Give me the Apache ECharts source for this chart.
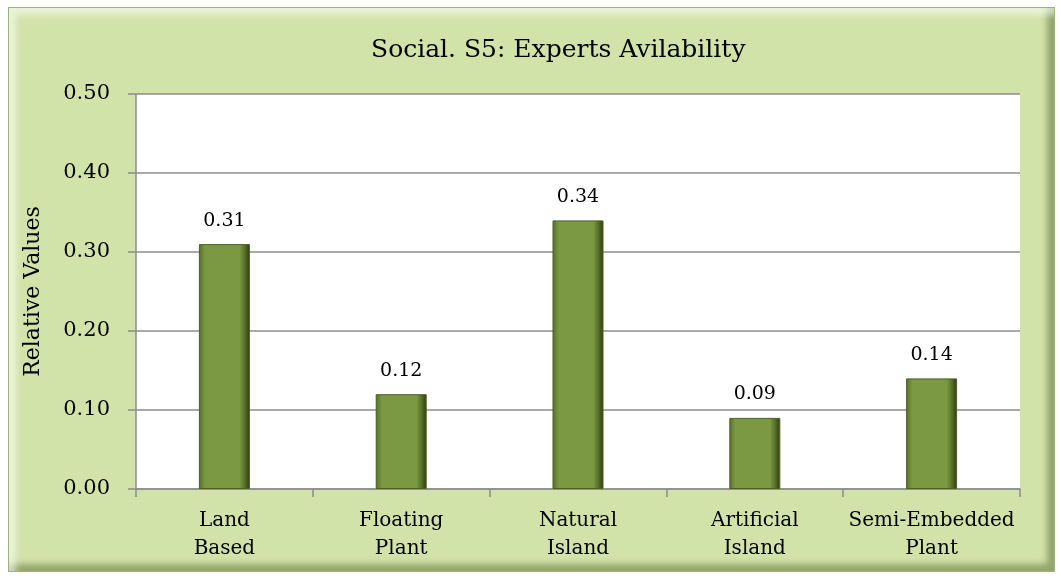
<!DOCTYPE html>
<html>
<head>
<meta charset="utf-8">
<script src="https://cdn.jsdelivr.net/npm/echarts@6/dist/echarts.min.js"></script>
<style>
  body { margin: 0; background: #fff; }
  #frame {
    position: absolute; left: 8px; top: 7px; width: 1045px; height: 563px;
    background: #d2e3a9;
    border: 1px solid #9fb27a;
    box-shadow: inset 7px 7px 6px rgba(255,255,255,0.55), inset -7px -7px 6px rgba(95,115,55,0.55);
  }
  #main { position: absolute; left: 0; top: 0; width: 1061px; height: 579px; }
</style>
</head>
<body>
<div id="frame"></div>
<div id="main"></div>
<script>
// chart data
var categories = ['Land\nBased', 'Floating\nPlant', 'Natural\nIsland', 'Artificial\nIsland', 'Semi-Embedded\nPlant']
var values = [0.31, 0.12, 0.34, 0.09, 0.14]
var titleText = 'Social. S5: Experts Avilability'
var yName = 'Relative Values'

var font = 'DejaVu Serif'
var gray = '#8c8c8c'

var chart = echarts.init(document.getElementById('main'))
chart.setOption({
  backgroundColor: 'transparent',
  animation: false,
  title: {
    text: titleText,
    left: 366,
    top: 33,
    textStyle: { fontFamily: font, fontSize: 25, fontWeight: 'normal', color: '#000' }
  },
  grid: {
    left: 136,
    right: 41,
    top: 94,
    bottom: 90,
    show: true,
    backgroundColor: '#fff',
    borderWidth: 0
  },
  xAxis: {
    type: 'category',
    data: categories,
    axisLine: { lineStyle: { color: gray, width: 1.5 } },
    axisTick: { show: true, length: 8, lineStyle: { color: gray, width: 1.5 } },
    axisLabel: {
      fontFamily: font,
      fontSize: 20,
      color: '#000',
      lineHeight: 28,
      margin: 18,
      interval: 0
    }
  },
  yAxis: {
    type: 'value',
    min: 0,
    max: 0.5,
    interval: 0.1,
    name: yName,
    nameLocation: 'middle',
    nameGap: 92,
    nameTextStyle: { fontFamily: font, fontSize: 22, color: '#000' },
    axisLine: { show: true, lineStyle: { color: gray, width: 1.5 } },
    axisTick: { show: true, length: 8, lineStyle: { color: gray, width: 1.5 } },
    splitLine: { lineStyle: { color: gray, width: 1.5 } },
    axisLabel: {
      fontFamily: font,
      fontSize: 21,
      color: '#000',
      margin: 26,
      formatter: function (v) { return v.toFixed(2) }
    }
  },
  series: [{
    type: 'bar',
    data: values,
    barWidth: 51,
    itemStyle: {
      borderColor: '#4a6020',
      borderWidth: 1,
      color: new echarts.graphic.LinearGradient(0, 0, 1, 0, [
        { offset: 0, color: '#55702a' },
        { offset: 0.12, color: '#7b9842' },
        { offset: 0.8, color: '#7b9842' },
        { offset: 0.9, color: '#566f28' },
        { offset: 1, color: '#2c3a10' }
      ])
    },
    label: {
      show: true,
      position: 'top',
      distance: 14,
      fontFamily: font,
      fontSize: 19,
      color: '#000',
      formatter: function (p) { return p.value.toFixed(2) }
    }
  }]
})
</script>
</body>
</html>
